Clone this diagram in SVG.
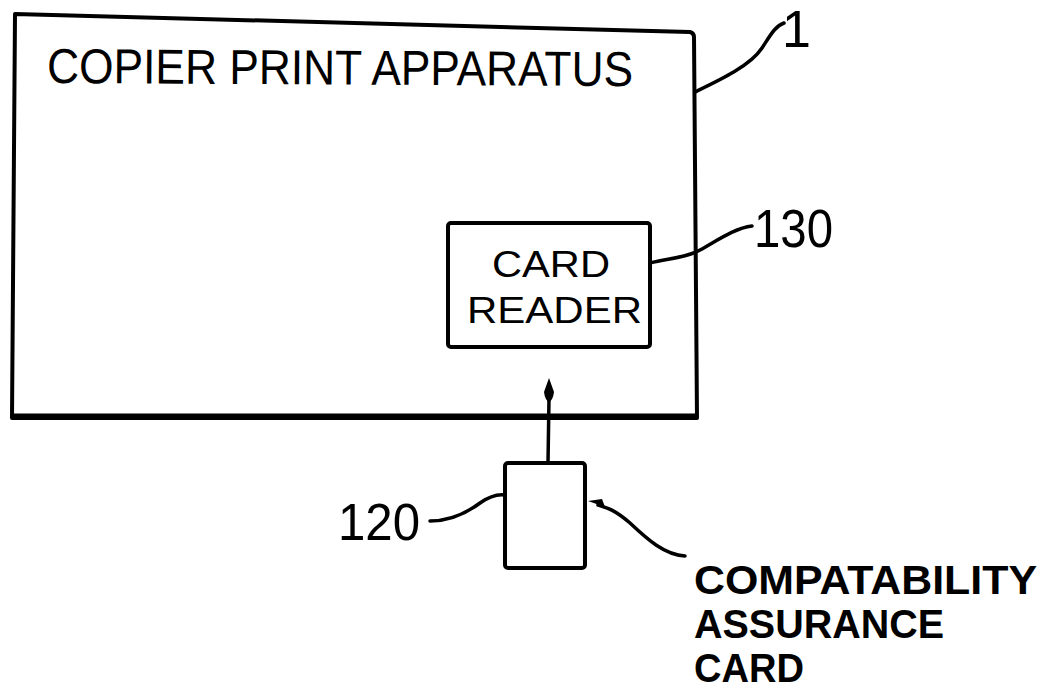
<svg xmlns="http://www.w3.org/2000/svg" width="1042" height="691" viewBox="0 0 1042 691">
<style>
.ln{fill:none;stroke:#000;stroke-width:4;stroke-linecap:round;stroke-linejoin:round}
.ld{fill:none;stroke:#000;stroke-width:3.5;stroke-linecap:round}
.t{font-family:"Liberation Sans",Arial,sans-serif;fill:#000}
</style>
<rect width="1042" height="691" fill="#fff"/>
<g id="copier">
<path class="ln" d="M15,14 L690,32 Q694,33 694,37 L697,418 L12,418 L15,14"/>
<path d="M12,416 L697,416" stroke="#000" stroke-width="5" fill="none"/>
<text class="t" x="47" y="83" font-size="49" textLength="586" lengthAdjust="spacingAndGlyphs" transform="rotate(0.3 47 83)">COPIER PRINT APPARATUS</text>
<text class="t" x="782" y="47" font-size="52">1</text>
</g>
<g id="card-reader">
<rect class="ln" x="448" y="223" width="202" height="124" rx="3"/>
<text class="t" x="492" y="277" font-size="36" textLength="118" lengthAdjust="spacingAndGlyphs">CARD</text>
<text class="t" x="467" y="323" font-size="36" textLength="175" lengthAdjust="spacingAndGlyphs">READER</text>
<text class="t" x="754" y="247" font-size="54" textLength="79" lengthAdjust="spacingAndGlyphs">130</text>
</g>
<g id="card">
<rect class="ln" x="505" y="463" width="80" height="105" rx="3"/>
<text class="t" x="338" y="540" font-size="52" textLength="82" lengthAdjust="spacingAndGlyphs">120</text>
<text class="t" x="694" y="594" font-size="41" font-weight="bold" textLength="343" lengthAdjust="spacingAndGlyphs">COMPATABILITY</text>
<text class="t" x="694" y="638" font-size="41" font-weight="bold" textLength="250" lengthAdjust="spacingAndGlyphs">ASSURANCE</text>
<text class="t" x="694" y="682" font-size="41" font-weight="bold" textLength="110" lengthAdjust="spacingAndGlyphs">CARD</text>
</g>
<g id="connectors">
<path class="ld" d="M548,463 L549,398"/>
<path d="M549,378 L554,392 Q553,400 549,402 Q545,400 544,392 Z" fill="#000"/>
<path class="ld" d="M695,92 C720,80 750,66 762,48 C770,36 775,26 784,23"/>
<path class="ld" d="M650,263 C672,258 688,257 700,250 C718,240 735,228 752,226"/>
<path class="ld" d="M430,521 C452,521 468,512 480,503 C490,496 498,494 505,495"/>
<path class="ld" d="M685,556 C665,555 648,540 630,523 C615,510 608,508 598,505"/>
<path d="M588,501 L602,499 L605,507 Z" fill="#000"/>
</g>
</svg>
